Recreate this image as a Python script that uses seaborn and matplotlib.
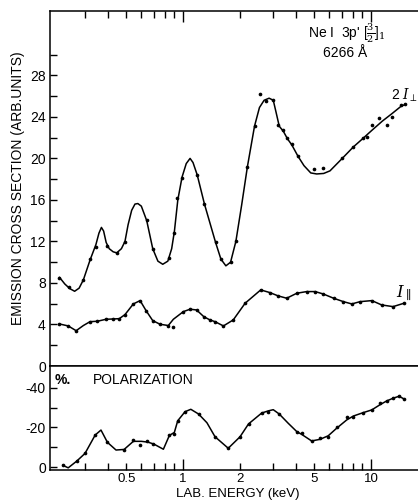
import numpy as np
import pandas as pd
import matplotlib
matplotlib.use("Agg")
import matplotlib.pyplot as plt
from matplotlib.ticker import FixedLocator, FuncFormatter, NullFormatter
import seaborn as sns

# ---- 2 I_perp : fitted curve nodes and measured points ----
perp_curve_E = [0.220, 0.235, 0.250, 0.265, 0.280, 0.295, 0.320, 0.344, 0.357, 0.368, 0.378,
                0.390, 0.405, 0.425, 0.444, 0.470, 0.491, 0.510, 0.533, 0.555, 0.575, 0.600,
                0.641, 0.690, 0.735, 0.780, 0.830, 0.870, 0.900, 0.938, 0.988, 1.04, 1.09,
                1.13, 1.19, 1.30, 1.49, 1.59, 1.69, 1.79, 1.91, 2.05, 2.20, 2.40, 2.55, 2.70,
                2.87, 3.02, 3.12, 3.25, 3.42, 3.59, 3.79, 4.09, 4.40, 4.78, 5.14, 5.60, 6.05,
                7.03, 8.05, 9.03, 10.1, 11.5, 12.9, 14.4, 15.2]
perp_curve_I = [8.55, 7.9, 7.45, 7.2, 7.5, 8.3, 10.2, 11.7, 12.8, 13.35, 13.0,
                11.9, 11.3, 11.0, 10.9, 11.3, 12.0, 13.6, 15.0, 15.6, 15.65, 15.4,
                14.0, 11.3, 10.1, 9.8, 10.1, 11.3, 13.0, 16.0, 18.2, 19.5, 20.0,
                19.6, 18.4, 15.6, 11.9, 10.3, 9.65, 10.0, 12.0, 15.5, 19.2, 23.1, 24.9, 25.6,
                25.8, 25.6, 24.5, 23.1, 22.6, 21.9, 21.3, 20.2, 19.3, 18.6, 18.5, 18.55, 18.8,
                20.0, 21.1, 21.9, 22.7, 23.6, 24.3, 25.0, 25.2]
perp_E = [0.220, 0.248, 0.295, 0.320, 0.344, 0.396, 0.444, 0.491, 0.641, 0.690, 0.846,
          0.896, 0.933, 0.988, 1.19, 1.30, 1.49, 1.59, 1.79, 1.91, 2.20, 2.40, 2.57, 2.76,
          3.02, 3.19, 3.42, 3.59, 3.79, 4.09, 5.00, 5.57, 7.03, 8.05, 9.03, 9.49, 10.08,
          11.07, 12.1, 12.9, 14.4, 15.2]
perp_I = [8.5, 7.6, 8.3, 10.3, 11.5, 11.6, 10.9, 11.9, 14.1, 11.3, 10.4,
          12.8, 16.2, 18.1, 18.4, 15.6, 11.9, 10.35, 10.0, 12.0, 19.2, 23.1, 26.2, 25.5,
          25.6, 23.2, 22.7, 22.0, 21.4, 20.2, 19.0, 19.1, 20.0, 21.1, 22.0, 22.1, 23.2,
          23.9, 23.2, 24.0, 25.1, 25.2]

# ---- I_parallel ----
par_curve_E = [0.220, 0.245, 0.270, 0.295, 0.320, 0.350, 0.389, 0.423, 0.458, 0.491, 0.544,
               0.591, 0.636, 0.690, 0.755, 0.835, 0.888, 1.004, 1.09, 1.18, 1.29, 1.39,
               1.48, 1.64, 1.85, 2.14, 2.59, 2.90, 3.21, 3.56, 4.03, 4.55, 5.04, 5.57,
               6.32, 7.13, 7.90, 8.75, 10.1, 11.4, 13.1, 15.0]
par_curve_I = [4.05, 3.86, 3.40, 3.9, 4.27, 4.31, 4.5, 4.53, 4.56, 4.95, 5.98,
               6.3, 5.33, 4.37, 4.02, 3.9, 4.5, 5.24, 5.47, 5.4, 4.75, 4.44,
               4.27, 3.86, 4.44, 6.05, 7.33, 7.07, 6.75, 6.53, 7.01, 7.17, 7.17, 6.94,
               6.53, 6.2, 5.98, 6.2, 6.3, 5.88, 5.72, 6.05]
par_E = [0.220, 0.245, 0.270, 0.320, 0.350, 0.389, 0.423, 0.458, 0.491, 0.544, 0.591,
         0.636, 0.690, 0.755, 0.835, 0.888, 1.004, 1.09, 1.18, 1.29, 1.39, 1.48, 1.64,
         1.85, 2.14, 2.59, 2.90, 3.21, 3.56, 4.03, 4.55, 5.04, 5.57, 6.32, 7.13, 7.90,
         8.75, 10.1, 11.4, 13.1, 15.0]
par_I = [4.05, 3.86, 3.40, 4.27, 4.31, 4.5, 4.53, 4.56, 4.95, 5.98, 6.3,
         5.33, 4.37, 4.02, 3.86, 3.75, 5.24, 5.47, 5.4, 4.75, 4.44, 4.27, 3.86,
         4.44, 6.05, 7.33, 7.07, 6.75, 6.53, 7.01, 7.17, 7.17, 6.94, 6.53, 6.2, 5.98,
         6.2, 6.3, 5.88, 5.72, 6.05]

# ---- Polarization (%) ----
pol_curve_E = [0.229, 0.245, 0.272, 0.301, 0.341, 0.366, 0.396, 0.440, 0.486, 0.544, 0.600,
               0.650, 0.700, 0.786, 0.846, 0.899, 0.937, 1.025, 1.10, 1.21, 1.34, 1.48,
               1.74, 2.01, 2.23, 2.62, 2.84, 3.02, 3.25, 3.63, 4.03, 4.28, 4.83, 5.35,
               5.92, 6.56, 7.42, 8.06, 9.08, 10.1, 11.2, 12.1, 13.1, 14.1, 15.0]
pol_curve_P = [-0.9, 0.4, -3.0, -6.9, -16.2, -18.7, -12.5, -8.6, -8.9, -13.0, -13.0,
               -12.6, -11.6, -9.0, -16.0, -17.5, -23.4, -28.0, -29.2, -26.8, -22.4, -15.3,
               -9.5, -15.3, -21.8, -27.3, -28.4, -29.0, -26.8, -22.1, -17.9, -16.5, -13.2, -14.0,
               -15.8, -19.6, -23.8, -25.8, -27.5, -28.9, -31.6, -33.4, -34.8, -35.8, -34.4]
pol_E = [0.229, 0.272, 0.301, 0.341, 0.396, 0.486, 0.544, 0.591, 0.641, 0.695, 0.846,
         0.899, 0.937, 1.025, 1.21, 1.48, 1.74, 2.01, 2.23, 2.62, 2.84, 3.25, 4.03, 4.28,
         4.83, 5.35, 5.92, 6.56, 7.42, 8.06, 9.08, 10.1, 11.2, 12.1, 13.1, 14.1, 15.0]
pol_P = [-0.9, -3.0, -6.9, -16.2, -12.5, -8.6, -13.7, -11.1, -13.2, -11.6, -16.2,
         -16.7, -23.4, -28.0, -26.8, -15.3, -9.5, -15.3, -21.8, -27.5, -27.8, -26.8, -17.9, -17.1,
         -13.2, -14.5, -15.3, -20.1, -25.5, -25.5, -27.5, -28.9, -32.6, -33.4, -34.8, -36.1, -34.4]

# ---- axis ticks ----
y_top_ticks = [0, 4, 8, 12, 16, 20, 24, 28]
y_bot_ticks = [0, -20, -40]
x_labels = [0.5, 1, 2, 5, 10]

sns.set_style("ticks")
plt.rcParams["font.family"] = ["Liberation Sans", "DejaVu Sans"]
plt.rcParams["mathtext.fontset"] = "dejavuserif"
plt.rcParams["axes.linewidth"] = 1.1
for key in ("text.color", "axes.edgecolor", "axes.labelcolor", "xtick.color", "ytick.color"):
    plt.rcParams[key] = "black"

fig = plt.figure(figsize=(4.18, 5.0), dpi=100)
fig.patch.set_facecolor("white")
L, W = 50 / 418, 377.6 / 418
ax1 = fig.add_axes([L, 0.268, W, 0.710])
ax2 = fig.add_axes([L, 0.060, W, 0.208])

line_kw = dict(color="black", linewidth=1.1, sort=False, estimator=None)
dot_kw = dict(color="black", s=7, linewidth=0, zorder=3)

sns.lineplot(x=perp_curve_E, y=perp_curve_I, ax=ax1, **line_kw)
sns.scatterplot(x=perp_E, y=perp_I, ax=ax1, **dot_kw)
sns.lineplot(x=par_curve_E, y=par_curve_I, ax=ax1, **line_kw)
sns.scatterplot(x=par_E, y=par_I, ax=ax1, **dot_kw)

sns.lineplot(x=pol_curve_E, y=pol_curve_P, ax=ax2, **line_kw)
sns.scatterplot(x=pol_E, y=pol_P, ax=ax2, **dot_kw)

minor_pos = [0.3, 0.4, 0.5, 0.6, 0.7, 0.8, 0.9, 2, 3, 4, 5, 6, 7, 8, 9]
for ax in (ax1, ax2):
    ax.set_xscale("log")
    ax.set_xlim(0.196, 20.0)
    ax.xaxis.set_major_locator(FixedLocator([1, 10]))
    ax.xaxis.set_minor_locator(FixedLocator(minor_pos))
    ax.spines["right"].set_visible(False)
    ax.set_xlabel("")
    ax.set_ylabel("")

# top panel: ticks on the top frame only
ax1.set_ylim(0, 34.2)
ax1.set_yticks(y_top_ticks)
ax1.set_yticks([2, 6, 10, 14, 18, 22, 26, 30], minor=True)
ax1.yaxis.set_minor_formatter(NullFormatter())
ax1.tick_params(axis="x", which="both", direction="in", top=True, bottom=False,
                labeltop=False, labelbottom=False)
ax1.tick_params(axis="x", which="major", length=8, width=1.0)
ax1.tick_params(axis="x", which="minor", length=5, width=1.0)
ax1.tick_params(axis="y", which="both", direction="in", length=5, width=1.0,
                labelsize=10, pad=3)

# bottom panel: polarization, negative values upward
ax2.set_ylim(1.5, -51.1)
ax2.set_yticks(y_bot_ticks)
ax2.set_yticks([-10, -30], minor=True)
ax2.yaxis.set_minor_formatter(NullFormatter())
ax2.tick_params(axis="x", which="both", direction="in", top=False, bottom=True,
                labelsize=9.5, pad=2)
ax2.tick_params(axis="x", which="major", length=8, width=1.0)
ax2.tick_params(axis="x", which="minor", length=5, width=1.0)
ax2.tick_params(axis="y", which="both", direction="in", length=5, width=1.0,
                labelsize=10, pad=3)


def fmt_label(v, pos):
    for t in x_labels:
        if abs(v - t) < 1e-6:
            return "%g" % t
    return ""


ax2.xaxis.set_major_formatter(FuncFormatter(fmt_label))
ax2.xaxis.set_minor_formatter(FuncFormatter(fmt_label))
ax2.yaxis.set_major_formatter(FuncFormatter(lambda v, p: "%d" % v))

# texts
fig.text(18 / 418, 1 - 188 / 500, "EMISSION CROSS SECTION (ARB.UNITS)", rotation=90,
         ha="center", va="center", fontsize=10)
fig.text(238 / 418, 1 - 494 / 500, "LAB. ENERGY (keV)", ha="center", va="center",
         fontsize=9.5)
fig.text(55 / 418, 1 - 380 / 500, "%.", ha="left", va="center", fontsize=10,
         fontweight="bold")
fig.text(93 / 418, 1 - 380 / 500, "POLARIZATION", ha="left", va="center", fontsize=10)
fig.text(308 / 418, 1 - 33 / 500, r"Ne I  3p' [$\frac{3}{2}$]$_1$", ha="left",
         va="center", fontsize=10)
fig.text(345 / 418, 1 - 53 / 500, "6266 Å", ha="center", va="center", fontsize=10)
fig.text(391 / 418, 1 - 95 / 500, r"2 $I_{\perp}$", ha="left", va="center", fontsize=10)
fig.text(396 / 418, 1 - 293 / 500, r"$I_{\parallel}$", ha="left", va="center", fontsize=12)

fig.savefig("out.png", dpi=100, facecolor="white")
